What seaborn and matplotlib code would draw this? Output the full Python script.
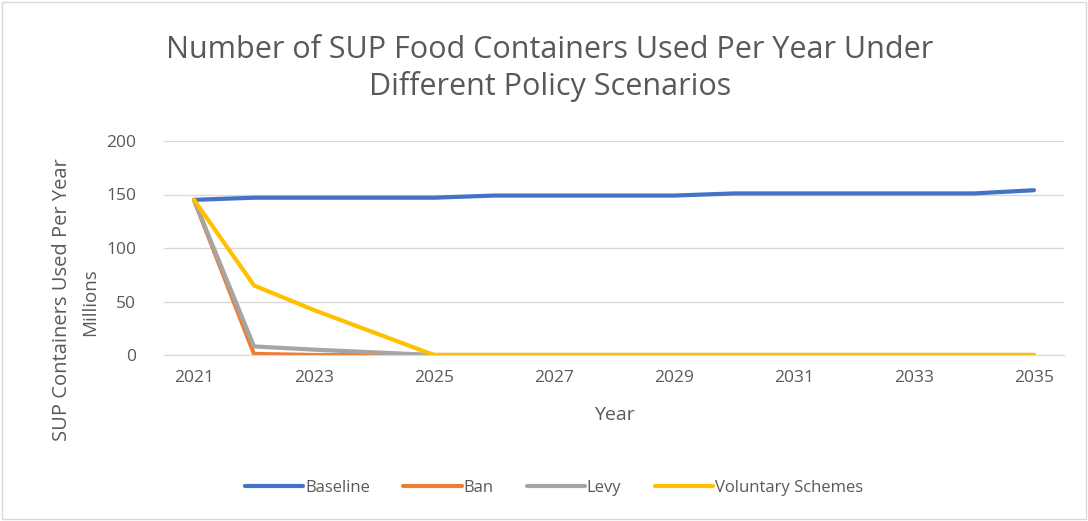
import numpy as np
import pandas as pd
import seaborn as sns
from matplotlib import pyplot as plt

# values (millions)
years = list(range(2021, 2036))
baseline = [145, 147, 147, 147, 147, 149, 149, 149, 149, 151, 151, 151, 151, 151, 154]
ban = [145, 1, 0, 0, 0, 0, 0, 0, 0, 0, 0, 0, 0, 0, 0]
levy = [145, 8, 5, 2.5, 0, 0, 0, 0, 0, 0, 0, 0, 0, 0, 0]
voluntary = [145, 65, 42, 21, 0, 0, 0, 0, 0, 0, 0, 0, 0, 0, 0]
series_names = ['Baseline', 'Ban', 'Levy', 'Voluntary Schemes']
colors = ['#4472C4', '#ED7D31', '#A5A5A5', '#FFC000']
x_ticks = [2021, 2023, 2025, 2027, 2029, 2031, 2033, 2035]
y_ticks = [0, 50, 100, 150, 200]

df = pd.DataFrame({'Year': years, 'Baseline': baseline, 'Ban': ban,
                   'Levy': levy, 'Voluntary Schemes': voluntary})
long_df = df.melt(id_vars='Year', var_name='Scenario', value_name='Value')

sns.set_style('white')
plt.rcParams['font.family'] = ['Open Sans', 'DejaVu Sans']
text_col = '#595959'

fig = plt.figure(figsize=(10.88, 5.21), dpi=100)
ax = fig.add_axes([164 / 1088, 1 - 355 / 521, 900 / 1088, 214 / 521])

sns.lineplot(data=long_df, x='Year', y='Value', hue='Scenario',
             hue_order=series_names, palette=colors, linewidth=3,
             ax=ax, legend=False)

ax.set_xlim(2020.5, 2035.5)
ax.set_ylim(0, 200)
ax.set_xticks(x_ticks)
ax.set_yticks(y_ticks)
ax.tick_params(axis='both', colors=text_col, labelsize=12.5, length=0)
ax.tick_params(axis='x', pad=11)
ax.tick_params(axis='y', pad=20)
ax.grid(axis='y', color='#D9D9D9', linewidth=1)
ax.set_axisbelow(True)
for side in ['top', 'right', 'left']:
    ax.spines[side].set_visible(False)
ax.spines['bottom'].set_color('#D9D9D9')
ax.set_xlabel('Year', color=text_col, fontsize=14, labelpad=14)
ax.set_ylabel('')

fig.text(62 / 1088, 1 - 300 / 521, 'SUP Containers Used Per Year', rotation=90,
         ha='center', va='center', color=text_col, fontsize=14.5)
fig.text(90 / 1088, 1 - 302 / 521, 'Millions', rotation=90,
         ha='center', va='center', color=text_col, fontsize=13.5)

fig.text(550 / 1088, 1 - 69 / 521,
         'Number of SUP Food Containers Used Per Year Under\nDifferent Policy Scenarios',
         ha='center', va='center', color=text_col, fontsize=22, linespacing=1.25)

handles = [plt.Line2D([0], [0], color=c, linewidth=3) for c in colors]
fig.legend(handles, series_names, loc='center', bbox_to_anchor=(554 / 1088, 1 - 488 / 521),
           ncol=4, frameon=False, fontsize=12, labelcolor=text_col,
           handlelength=3.5, handletextpad=0.1, columnspacing=2.0)

border = plt.Rectangle((0.002, 0.004), 0.996, 0.992, transform=fig.transFigure,
                       fill=False, edgecolor='#D9D9D9', linewidth=1)
fig.patches.append(border)

fig.savefig('out.png', dpi=100)
